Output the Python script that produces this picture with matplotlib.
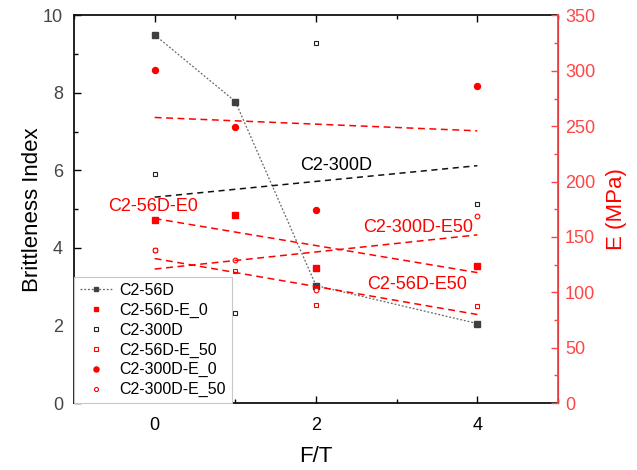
import numpy as np
import matplotlib
matplotlib.use("Agg")
import matplotlib.pyplot as plt
from matplotlib.ticker import MultipleLocator

plt.rcParams['font.family'] = ['Liberation Sans', 'DejaVu Sans']

# ---- data ----
ft = [0, 1, 2, 4]
bi_56d = [9.50, 7.78, 3.03, 2.05]
bi_300d = [5.92, 2.33, 9.28, 5.14]
e_56d_0 = [165, 170, 122, 124]
e_56d_50 = [138, 119, 88.5, 88]
e_300d_0 = [301, 249, 174.5, 286]
e_300d_50 = [138, 129, 102, 169]

labels = ["C2-56D", "C2-56D-E_0", "C2-300D", "C2-56D-E_50", "C2-300D-E_0", "C2-300D-E_50"]
annot = [("C2-300D", 2.25, 6.14, 'black'),
         ("C2-56D-E0", -0.02, 5.06, 'red'),
         ("C2-300D-E50", 3.27, 4.54, 'red'),
         ("C2-56D-E50", 3.25, 3.05, 'red')]

RED = '#ff0000'
AXRED = '#ff4545'

fig = plt.figure(figsize=(6.37, 4.7), dpi=100)
ax = fig.add_axes([74/637, 67/470, (558-74)/637, (403-15.5)/470])
ax2 = ax.twinx()

# left axis
h1, = ax.plot(ft, bi_56d, linestyle=(0, (1.5, 1.5)), color='#666666', lw=0.9,
              marker='s', ms=3.9, mfc='#404040', mec='#404040')
h3, = ax.plot(ft, bi_300d, linestyle='none', marker='s', ms=3.0, mfc='white',
              mec='#222222', mew=0.8)
xf = np.array([0, 4])
p = np.polyfit(ft, bi_300d, 1)
ax.plot(xf, np.polyval(p, xf), linestyle=(0, (4, 3)), color='#111111', lw=1.1)

# right axis
h2, = ax2.plot(ft, e_56d_0, linestyle='none', marker='s', ms=3.9, color=RED)
h4, = ax2.plot(ft, e_56d_50, linestyle='none', marker='s', ms=3.0, mfc='white',
               mec=RED, mew=0.8)
h5, = ax2.plot(ft, e_300d_0, linestyle='none', marker='o', ms=4.3, color=RED)
h6, = ax2.plot(ft, e_300d_50, linestyle='none', marker='o', ms=3.4, mfc='white',
               mec=RED, mew=0.8)
for ser in (e_56d_0, e_56d_50, e_300d_0, e_300d_50):
    pp = np.polyfit(ft, ser, 1)
    ax2.plot(xf, np.polyval(pp, xf), linestyle=(0, (4.5, 3)), color=RED, lw=1.1)

ax.set_xlim(-1, 5)
ax.set_ylim(0, 10)
ax2.set_ylim(0, 350)

ax.xaxis.set_major_locator(MultipleLocator(2))
ax.xaxis.set_minor_locator(MultipleLocator(1))
ax.yaxis.set_major_locator(MultipleLocator(2))
ax.yaxis.set_minor_locator(MultipleLocator(1))
ax2.yaxis.set_major_locator(MultipleLocator(50))
ax2.yaxis.set_minor_locator(MultipleLocator(25))

ax.tick_params(axis='x', which='both', direction='in', top=True, labelsize=13,
               labelcolor='black', pad=10)
ax.tick_params(axis='x', which='major', length=5, width=1)
ax.tick_params(axis='x', which='minor', length=3, width=1)
ax.tick_params(axis='y', which='both', direction='in', labelsize=13,
               labelcolor='#454545', pad=8)
ax.tick_params(axis='y', which='major', length=5, width=1)
ax.tick_params(axis='y', which='minor', length=3, width=1)
ax2.tick_params(axis='y', which='both', direction='in', colors=AXRED, labelsize=13, pad=5)
ax2.tick_params(axis='y', which='major', length=5, width=1)
ax2.tick_params(axis='y', which='minor', length=3, width=1)

for s in ('left', 'bottom', 'top'):
    ax.spines[s].set_linewidth(1.3)
    ax.spines[s].set_color('#111111')
ax2.spines['right'].set_color(AXRED)
ax2.spines['right'].set_linewidth(1.3)
for s in ('left', 'bottom', 'top'):
    ax2.spines[s].set_visible(False)

ax.set_xlabel("F/T", fontsize=16, labelpad=9)
ax.set_ylabel("Brittleness Index", fontsize=16, labelpad=0)
ax2.set_ylabel("E (MPa)", fontsize=16, color=RED, labelpad=8)

for txt, x, y, c in annot:
    ax2.text(x, y * 35, txt, fontsize=13, color=c, ha='center', va='center')

leg = ax2.legend([h1, h2, h3, h4, h5, h6], labels, loc='lower left',
                 bbox_to_anchor=(0, 0), borderaxespad=0, fontsize=11.5,
                 frameon=True, fancybox=False, framealpha=1, edgecolor='#c8c8c8',
                 handlelength=2.1, handletextpad=0.4, labelspacing=0.3,
                 borderpad=0.35, markerscale=0.85)
leg.get_frame().set_linewidth(0.8)

fig.savefig("out.png", dpi=100)
